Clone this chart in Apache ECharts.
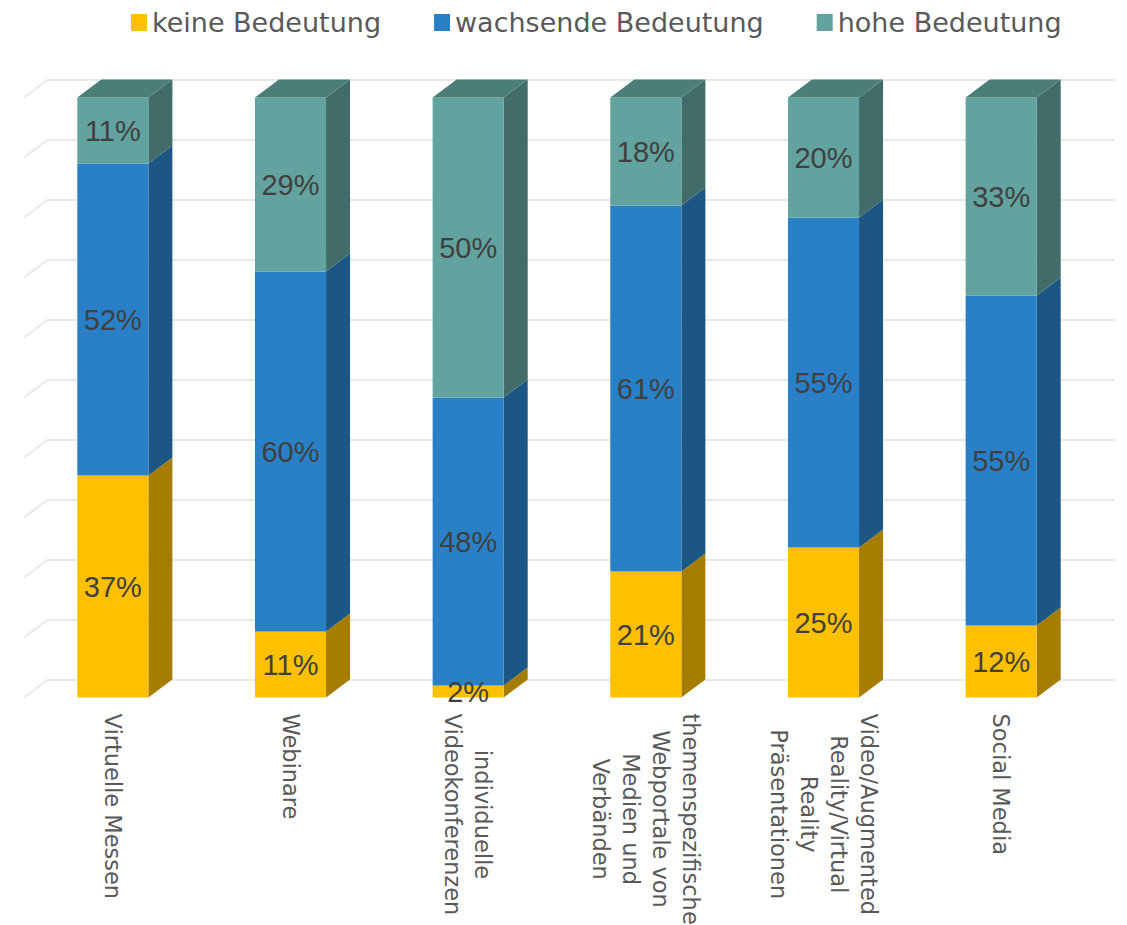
<!DOCTYPE html>
<html>
<head>
<meta charset="utf-8">
<script src="https://cdn.jsdelivr.net/npm/echarts@6/dist/echarts.min.js"></script>
<style>
html,body{margin:0;padding:0;background:#fff;}
#chart{width:1127px;height:925px;}
</style>
</head>
<body>
<div id="chart"></div>
<script>
// ---- data ----
const categories = [
  'Virtuelle Messen',
  'Webinare',
  'individuelle\nVideokonferenzen',
  'themenspezifische\nWebportale von\nMedien und\nVerbänden',
  'Video/Augmented\nReality/Virtual\nReality\nPräsentationen',
  'Social Media'
];
const seriesNames = ['keine Bedeutung', 'wachsende Bedeutung', 'hohe Bedeutung'];
const keineBedeutung = [37, 11, 2, 21, 25, 12];
const wachsendeBedeutung = [52, 60, 48, 61, 55, 55];
const hoheBedeutung = [11, 29, 50, 18, 20, 33];
const gridLevels = [0, 10, 20, 30, 40, 50, 60, 70, 80, 90, 100];

// ---- styles ----
const frontColors = ['#FFC000', '#2980C6', '#62A39F'];
const sideColors = ['#A67D00', '#1C5684', '#416C69'];
const topColor = '#4B7D79';
const DX = 24, DY = 18;       // 3D depth offset in px
const BAR_RATIO = 0.40;

const layers = [keineBedeutung, wachsendeBedeutung, hoheBedeutung];
function stackedData(k) {
  return categories.map((c, i) => {
    let base = 0;
    for (let j = 0; j < k; j++) base += layers[j][i];
    return [i, base, layers[k][i]];
  });
}

function makeBarRender(k, isTop) {
  return function (params, api) {
    const x = api.value(0), base = api.value(1), v = api.value(2);
    const pB = api.coord([x, base]);
    const pT = api.coord([x, base + v]);
    const bw = api.size([1, 0])[0] * BAR_RATIO;
    const xl = pB[0] - bw / 2, xr = pB[0] + bw / 2;
    const yb = pB[1], yt = pT[1];
    const children = [
      { type: 'polygon', shape: { points: [[xr, yb], [xr + DX, yb - DY], [xr + DX, yt - DY], [xr, yt]] },
        style: { fill: sideColors[k] } },
      { type: 'rect', shape: { x: xl, y: yt, width: bw, height: yb - yt },
        style: { fill: frontColors[k] } }
    ];
    if (isTop) {
      children.push({ type: 'polygon', shape: { points: [[xl, yt], [xl + DX, yt - DY], [xr + DX, yt - DY], [xr, yt]] },
        style: { fill: topColor } });
    }
    children.push({ type: 'text', z2: 100,
      style: { text: v + '%', x: pB[0], y: (yb + yt) / 2, align: 'center', verticalAlign: 'middle',
        fill: '#404040', fontSize: 29, fontFamily: '"Liberation Sans", Arial, sans-serif' } });
    return { type: 'group', children: children };
  };
}

const chart = echarts.init(document.getElementById('chart'), null, { renderer: 'svg' });

const series = seriesNames.map((name, k) => ({
  name: name,
  type: 'custom',
  xAxisIndex: 0, yAxisIndex: 0,
  itemStyle: { color: frontColors[k] },
  renderItem: makeBarRender(k, k === seriesNames.length - 1),
  encode: { x: 0, y: [1, 2] },
  data: stackedData(k),
  z: 3
}));

series.push({
  name: 'wall',
  type: 'custom',
  xAxisIndex: 1, yAxisIndex: 1,
  silent: true,
  renderItem: function (params, api) {
    const p = api.coord([0, api.value(0)]);
    const left = p[0] - api.size([1, 0])[0] / 2;
    return { type: 'line', shape: { x1: left, y1: p[1], x2: left - DX, y2: p[1] + DY },
      style: { stroke: '#e8e8e8', lineWidth: 2 } };
  },
  data: gridLevels.map(v => [v]),
  encode: { y: 0 },
  z: 1
});

chart.setOption({
  animation: false,
  backgroundColor: '#ffffff',
  legend: {
    data: seriesNames,
    left: 126, top: 4,
    icon: 'rect',
    itemWidth: 16, itemHeight: 17,
    itemGap: 53,
    textStyle: { fontSize: 27, color: '#595959', fontFamily: '"DejaVu Sans", sans-serif' }
  },
  grid: [
    { left: 24, right: 37, top: 97.5, bottom: 227.5, containLabel: false, outerBoundsMode: 'none' },   // front plane
    { left: 48, right: 12, top: 79.5, bottom: 245.5, containLabel: false, outerBoundsMode: 'none' }    // back wall
  ],
  xAxis: [
    { type: 'category', gridIndex: 0, data: categories,
      axisLine: { show: false }, axisTick: { show: false }, splitLine: { show: false },
      axisLabel: {
        interval: 0, rotate: -90, margin: 16, align: 'left', verticalAlign: 'middle',
        color: '#595959', fontSize: 22.5, lineHeight: 30,
        fontFamily: '"DejaVu Sans", sans-serif',
        formatter: function (v) { return v.split('\n').map(s => '{c|' + s + '}').join('\n'); },
        rich: { c: { align: 'center', fontSize: 22.5, lineHeight: 30, color: '#595959',
          fontFamily: '"DejaVu Sans", sans-serif' } }
      } },
    { type: 'category', gridIndex: 1, data: categories,
      axisLine: { show: false }, axisTick: { show: false }, axisLabel: { show: false } }
  ],
  yAxis: [
    { type: 'value', gridIndex: 0, min: 0, max: 100, interval: 10,
      axisLine: { show: false }, axisTick: { show: false }, axisLabel: { show: false },
      splitLine: { show: false } },
    { type: 'value', gridIndex: 1, min: 0, max: 100, interval: 10,
      axisLine: { show: false }, axisTick: { show: false }, axisLabel: { show: false },
      splitLine: { show: true, lineStyle: { color: '#e8e8e8', width: 2 } } }
  ],
  series: series
});
</script>
</body>
</html>
